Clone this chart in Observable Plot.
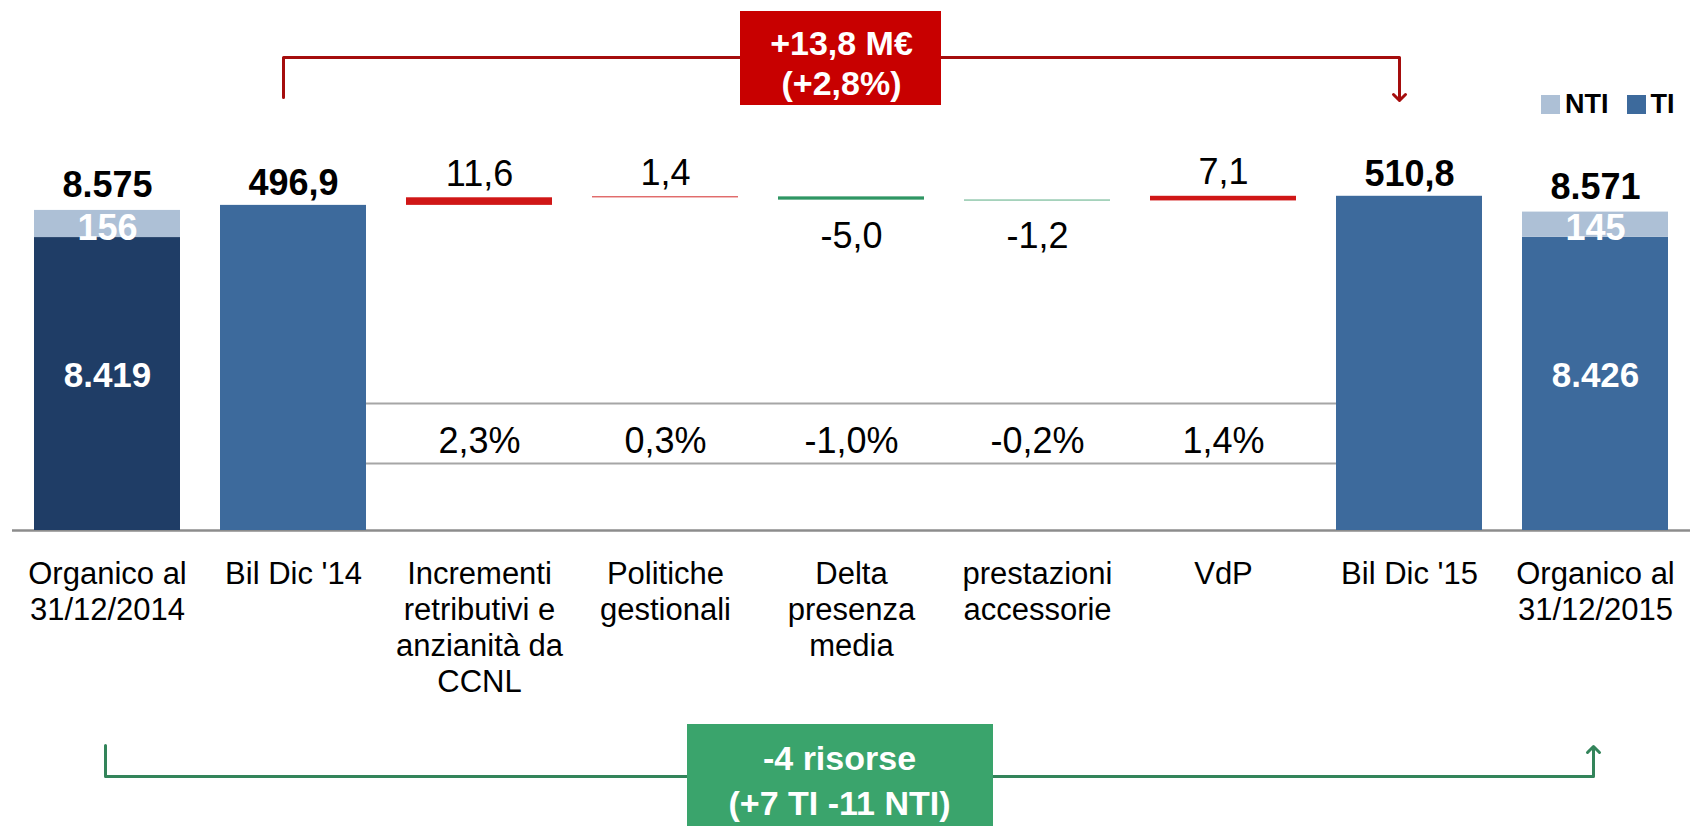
<!DOCTYPE html>
<html><head><meta charset="utf-8">
<script src="https://cdn.jsdelivr.net/npm/d3@7"></script>
<script src="https://cdn.jsdelivr.net/npm/@observablehq/plot@0.6"></script>
<style>
body{margin:0;background:#fff;font-family:"Liberation Sans",Arial,sans-serif;}
#wrap{position:relative;width:1697px;height:826px;overflow:hidden;}
#legend{position:absolute;left:1541px;top:88px;width:156px;white-space:nowrap;}
#legend > div{display:flex !important;flex-wrap:nowrap !important;align-items:center !important;margin:0 !important;}
#legend span{display:inline-flex !important;align-items:center !important;margin-right:18px !important;
  font-size:27px !important;font-weight:bold !important;font-family:"Liberation Sans",Arial,sans-serif !important;color:#000 !important;}
#legend svg{margin-right:5px !important;}
</style></head><body><div id="wrap"><div id="legend"></div></div>
<script>
// ---------------- DATA ----------------
const categories = [
  "Organico al\n31/12/2014", "Bil Dic '14",
  "Incrementi\nretributivi e\nanzianità da\nCCNL", "Politiche\ngestionali",
  "Delta\npresenza\nmedia", "prestazioni\naccessorie", "VdP",
  "Bil Dic '15", "Organico al\n31/12/2015"
];
const headcountCats = [categories[0], categories[8]];
const headcountTotal = [8575, 8571];
const headcountTI = [8419, 8426];
const headcountNTI = [156, 145];
const budgetCats = [categories[1], categories[7]];
const budgetValues = [496.9, 510.8];            // M€
const deltaCats = categories.slice(2, 7);
const deltaValues = [11.6, 1.4, -5.0, -1.2, 7.1]; // M€
const deltaPct = [2.3, 0.3, -1.0, -0.2, 1.4];     // %
const costBoxText = "+13,8 M€\n(+2,8%)";
const staffBoxText = "-4 risorse\n(+7 TI -11 NTI)";
const legendKeys = ["NTI", "TI"];

// ---------------- STYLE / LAYOUT ----------------
const W = 1697, H = 826, BASE_PX = 530, PX_PER_UNIT = 0.6543;
const HC_SCALE = 0.05318;  // headcount drawn on the same axis (stylised)
const NTI_BOOST = 5;       // NTI band exaggerated as in the original
const C = {ti14: "#1f3d66", ti: "#3d6a9c", nti: "#adc0d6", up: "#d01717", down: "#2f9663",
           red: "#c80000", redLine: "#a50d0d", green: "#3aa46c", greenLine: "#33845a", grid: "#a6a6a6", axis: "#8c8c8c"};
const FONT = "Liberation Sans, Arial, sans-serif";
const u = px => (BASE_PX - px) / PX_PER_UNIT;   // page pixel -> y units (for annotations)
const yDomain = [u(H), u(0)];

const loc = d3.formatLocale({decimal: ",", thousands: ".", grouping: [3], currency: ["", "€"], minus: "-"});
const fmtHC = loc.format(",");
const fmt1 = loc.format(".1f");

// derived tables
const org = headcountCats.map((c, i) => ({
  cat: c, total: headcountTotal[i], ti: headcountTI[i], nti: headcountNTI[i],
  tiTop: headcountTI[i] * HC_SCALE,
  top: headcountTI[i] * HC_SCALE + headcountNTI[i] * HC_SCALE * NTI_BOOST,
  tiFill: i === 0 ? C.ti14 : C.ti
}));
const bud = budgetCats.map((c, i) => ({cat: c, v: budgetValues[i]}));
let run = budgetValues[0];
const del = deltaCats.map((c, i) => {
  const s = run; run += deltaValues[i];
  return {cat: c, v: deltaValues[i], pct: deltaPct[i], y1: s, y2: run};
});

const redBracket = [
  {x: categories[1], y: u(97)}, {x: categories[1], y: u(57)},
  {x: categories[7], y: u(57)}, {x: categories[7], y: u(97)}
];
const greenBracket = [
  {x: categories[0], y: u(745)}, {x: categories[0], y: u(776)},
  {x: categories[8], y: u(776)}, {x: categories[8], y: u(749)}
];

const chart = Plot.plot({
  width: W, height: H,
  marginTop: 0, marginBottom: 0, marginLeft: 12, marginRight: 7,
  style: {fontFamily: FONT, overflow: "visible", background: "#fff"},
  x: {domain: categories, paddingInner: 0.2176, paddingOuter: 0.109, axis: null},
  y: {domain: yDomain, axis: null},
  marks: [
    // table lines for the percentage row (hidden behind the budget bars at both ends)
    Plot.ruleY([u(403), u(463)], {x1: () => categories[1], x2: () => categories[7], stroke: C.grid, strokeWidth: 2}),
    // baseline
    Plot.ruleY([0], {stroke: C.axis, strokeWidth: 2.5}),
    // budget bars
    Plot.barY(bud, {x: "cat", y: "v", fill: C.ti}),
    // headcount bars
    Plot.barY(org, {x: "cat", y1: 0, y2: "tiTop", fill: "tiFill"}),
    Plot.barY(org, {x: "cat", y1: "tiTop", y2: "top", fill: C.nti}),
    // waterfall deltas
    Plot.barY(del, {x: "cat", y1: "y1", y2: "y2", fill: d => d.v >= 0 ? C.up : C.down}),
    // value labels
    Plot.text(org, {x: "cat", y: "top", text: d => fmtHC(d.total), lineAnchor: "bottom", dy: -13,
      fontSize: 36, fontWeight: "bold", fill: "#000"}),
    Plot.text(org, {x: "cat", y: d => (d.tiTop + d.top) / 2, text: d => fmtHC(d.nti), lineAnchor: "middle", dy: 4,
      fontSize: 36, fontWeight: "bold", fill: "#fff"}),
    Plot.text(org, {x: "cat", y: d => d.tiTop / 2, text: d => fmtHC(d.ti), lineAnchor: "middle", dy: -8,
      fontSize: 35, fontWeight: "bold", fill: "#fff"}),
    Plot.text(bud, {x: "cat", y: "v", text: d => fmt1(d.v), lineAnchor: "bottom", dy: -10,
      fontSize: 36, fontWeight: "bold", fill: "#000"}),
    Plot.text(del.filter(d => d.v >= 0), {x: "cat", y: d => Math.max(d.y1, d.y2), text: d => fmt1(d.v),
      lineAnchor: "bottom", dy: -12, fontSize: 36, fill: "#000"}),
    Plot.text(del.filter(d => d.v < 0), {x: "cat", y: d => Math.min(d.y1, d.y2), text: d => fmt1(d.v),
      lineAnchor: "top", dy: 22, fontSize: 36, fill: "#000"}),
    Plot.text(del, {x: "cat", y: 0, text: d => fmt1(d.pct) + "%", lineAnchor: "middle", dy: -89,
      fontSize: 36, fill: "#000"}),
    // category labels
    Plot.text(categories, {x: d => d, y: 0, text: d => d, lineAnchor: "top", dy: 28, fontSize: 31,
      lineHeight: 1.16, fill: "#000"}),
    // red bracket + box
    Plot.line(redBracket, {x: "x", y: "y", stroke: C.redLine, strokeWidth: 3, dx: -10, markerEnd: "arrow"}),
    Plot.barY([categories[4]], {x: d => d, y1: u(105), y2: u(11), fill: C.red, insetLeft: -38, insetRight: -17}),
    Plot.text([costBoxText], {x: () => categories[4], y: u(62), text: d => d, lineAnchor: "middle", dx: -10,
      fontSize: 34, fontWeight: "bold", lineHeight: 1.15, fill: "#fff"}),
    // green bracket + box
    Plot.line(greenBracket, {x: "x", y: "y", stroke: C.greenLine, strokeWidth: 3, dx: -2, markerEnd: "arrow"}),
    Plot.barY([categories[4]], {x: d => d, y1: u(830), y2: u(724), fill: C.green, insetLeft: -91, insetRight: -69}),
    Plot.text([staffBoxText], {x: () => categories[4], y: u(778), text: d => d, lineAnchor: "middle", dx: -12,
      fontSize: 34, fontWeight: "bold", lineHeight: 1.32, fill: "#fff"})
  ]
});
document.getElementById("wrap").prepend(chart);

const legend = Plot.legend({
  color: {type: "ordinal", domain: legendKeys, range: [C.nti, C.ti]},
  legend: "swatches", swatchSize: 19,
  style: {fontFamily: FONT, fontSize: "27px", fontWeight: "bold", color: "#000"}
});
document.getElementById("legend").appendChild(legend);
</script>
</body></html>
